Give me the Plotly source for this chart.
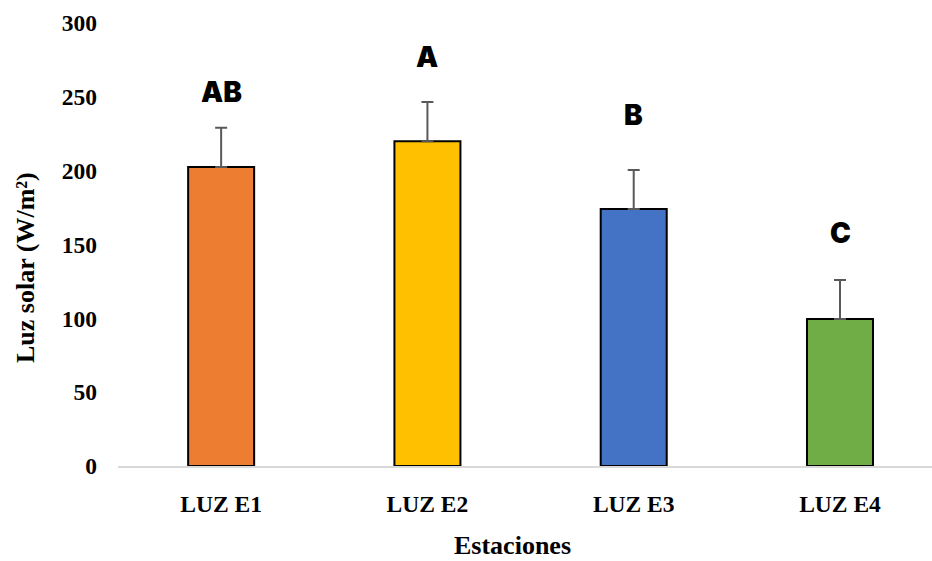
import plotly.graph_objects as go

categories = ["LUZ E1", "LUZ E2", "LUZ E3", "LUZ E4"]
values = [202.5, 220, 174, 99.5]
errors = [26.5, 26.5, 26.5, 26.5]
colors = ["#ED7D31", "#FFC000", "#4472C4", "#70AD47"]
letters = ["AB", "A", "B", "C"]
letter_y = [253, 277, 237.5, 157.5]
y_ticks = [0, 50, 100, 150, 200, 250, 300]

fig = go.Figure()
fig.add_trace(go.Bar(
    x=categories, y=values,
    marker=dict(color=colors, line=dict(color="#000000", width=2)),
    width=0.32,
    error_y=dict(type="data", array=errors, arrayminus=[0] * 4, symmetric=False,
                 color="#595959", thickness=2, width=6),
    showlegend=False,
))

for c, t, ly in zip(categories, letters, letter_y):
    fig.add_annotation(x=c, y=ly, text=t, showarrow=False,
                       font=dict(family="Inter, DejaVu Sans", size=28, color="#000000", weight=900),
                       xanchor="center", yanchor="middle")

serif = "Times New Roman, Liberation Serif, serif"
title_font = dict(family=serif, size=26, color="#000000", weight="bold")

fig.add_annotation(xref="paper", yref="paper", x=(512 - 118) / 814, y=-(545 - 466) / 443,
                   text="Estaciones", showarrow=False, font=title_font, borderpad=0,
                   xanchor="center", yanchor="middle")
fig.add_annotation(xref="paper", yref="paper", x=-(118 - 25) / 814, y=(466 - 268) / 443,
                   text="Luz solar (W/m²)", showarrow=False, font=title_font, textangle=-90,
                   xanchor="center", yanchor="middle")

fig.update_layout(
    width=932, height=561,
    margin=dict(l=118, r=0, t=23, b=95),
    paper_bgcolor="white", plot_bgcolor="white",
    xaxis=dict(
        range=[-0.5, 3.446],
        showline=True, linecolor="#d9d9d9", linewidth=1.5,
        showgrid=False, zeroline=False, ticks="",
        tickfont=dict(family=serif, size=23.5, color="#000000", weight="bold"),
        ticklabelstandoff=16,
    ),
    yaxis=dict(
        range=[0, 300], tickvals=y_ticks,
        showline=False, showgrid=False, zeroline=False, ticks="",
        tickfont=dict(family=serif, size=23.5, color="#000000", weight="bold"),
        ticklabelstandoff=20,
    ),
)

fig.write_html("out.html")
